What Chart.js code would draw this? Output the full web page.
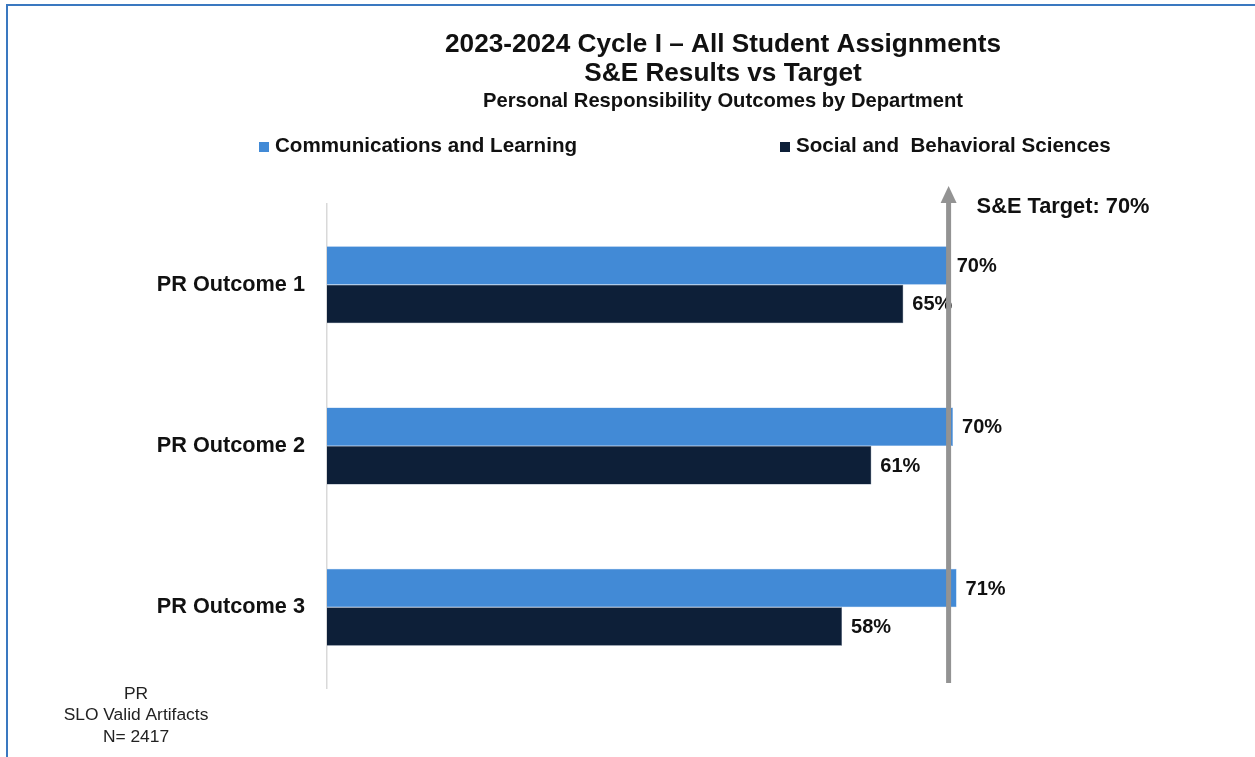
<!DOCTYPE html>
<html>
<head>
<meta charset="utf-8">
<script src="https://cdn.jsdelivr.net/npm/chart.js@4.4.1/dist/chart.umd.min.js"></script>
<style>
  html, body { margin: 0; padding: 0; background: #ffffff; }
  #wrap { position: relative; width: 1255px; height: 757px; }
</style>
</head>
<body>
<div id="wrap"><canvas id="c" width="1255" height="757"></canvas></div>
<script>
const categories = ['PR Outcome 1', 'PR Outcome 2', 'PR Outcome 3'];
const seriesNames = ['Communications and Learning', 'Social and  Behavioral Sciences'];
const commLearning = [69.9, 70.5, 70.9];
const socialBehavioral = [64.9, 61.3, 58.0];
const valueLabels = [['70%', '70%', '71%'], ['65%', '61%', '58%']];
const targetValue = 70;
const targetLabel = 'S&E Target: 70%';
const titleLines = ['2023-2024 Cycle I \u2013 All Student Assignments', 'S&E Results vs Target'];
const subtitleText = 'Personal Responsibility Outcomes by Department';
const footnoteLines = ['PR', 'SLO Valid Artifacts', 'N= 2417'];

const FONT = '"Liberation Sans", Arial, sans-serif';
const BLUE = '#428ad6';
const NAVY = '#0d1f38';

const decor = {
  id: 'decor',
  beforeDraw(chart) {
    const ctx = chart.ctx;
    ctx.save();
    ctx.fillStyle = '#ffffff';
    ctx.fillRect(0, 0, chart.width, chart.height);
    // frame
    ctx.fillStyle = '#3a78c0';
    ctx.fillRect(6, 4, chart.width - 6, 2);
    ctx.fillRect(6, 4, 2, chart.height - 4);
    ctx.restore();
  },
  afterDatasetsDraw(chart) {
    const ctx = chart.ctx;
    const xs = chart.scales.x;
    const area = chart.chartArea;
    ctx.save();
    // data labels
    ctx.fillStyle = '#111111';
    ctx.font = 'bold 20px ' + FONT;
    ctx.textAlign = 'left';
    ctx.textBaseline = 'middle';
    chart.data.datasets.forEach((ds, di) => {
      const meta = chart.getDatasetMeta(di);
      meta.data.forEach((bar, i) => {
        ctx.fillText(valueLabels[di][i], bar.x + 9, bar.y + 1);
      });
    });
    // target arrow
    const tx = xs.getPixelForValue(targetValue);
    ctx.fillStyle = '#939393';
    ctx.fillRect(tx - 2.5, area.top - 1, 5, area.bottom - 5 - (area.top - 1));
    ctx.beginPath();
    ctx.moveTo(tx, area.top - 18);
    ctx.lineTo(tx - 8, area.top - 1);
    ctx.lineTo(tx + 8, area.top - 1);
    ctx.closePath();
    ctx.fill();
    // target label
    ctx.fillStyle = '#111111';
    ctx.font = 'bold 21.8px ' + FONT;
    ctx.textAlign = 'left';
    ctx.fillText(targetLabel, tx + 28, area.top + 3);
    // titles
    ctx.textAlign = 'center';
    ctx.font = 'bold 26.2px ' + FONT;
    ctx.fillText(titleLines[0], 723, 45);
    ctx.fillText(titleLines[1], 723, 74);
    ctx.font = 'bold 20.2px ' + FONT;
    ctx.fillText(subtitleText, 723, 101);
    // legend
    const legendX = [259, 780];
    chart.data.datasets.forEach((ds, di) => {
      ctx.fillStyle = ds.backgroundColor;
      ctx.fillRect(legendX[di], 142, 10, 10);
      ctx.fillStyle = '#111111';
      ctx.font = 'bold 20.6px ' + FONT;
      ctx.textAlign = 'left';
      ctx.fillText(ds.label, legendX[di] + 16, 146);
    });
    // footnote
    ctx.fillStyle = '#222222';
    ctx.font = '17.4px ' + FONT;
    ctx.textAlign = 'center';
    footnoteLines.forEach((t, i) => ctx.fillText(t, 136, 694 + i * 21.5));
    ctx.restore();
  }
};

new Chart(document.getElementById('c'), {
  type: 'bar',
  data: {
    labels: categories,
    datasets: [
      { label: seriesNames[0], data: commLearning, backgroundColor: BLUE, borderColor: '#7fb0e6', borderWidth: 0.5 },
      { label: seriesNames[1], data: socialBehavioral, backgroundColor: NAVY, borderColor: '#4a5d78', borderWidth: 0.5 }
    ]
  },
  options: {
    indexAxis: 'y',
    responsive: false,
    animation: false,
    devicePixelRatio: 1,
    layout: { padding: { top: 204, bottom: 69, left: 0, right: 40 } },
    datasets: { bar: { categoryPercentage: 0.477, barPercentage: 1.0 } },
    plugins: {
      legend: { display: false },
      title: { display: false },
      tooltip: { enabled: false }
    },
    scales: {
      x: {
        display: false,
        min: 0,
        max: 100
      },
      y: {
        afterFit(scale) { scale.width = 327; },
        grid: { display: false, drawTicks: false },
        border: { display: true, color: '#d9d9d9', width: 1.5 },
        ticks: {
          padding: 22,
          color: '#111111',
          font: { family: FONT, size: 21.7, weight: 'bold' }
        }
      }
    }
  },
  plugins: [decor]
});
</script>
</body>
</html>
